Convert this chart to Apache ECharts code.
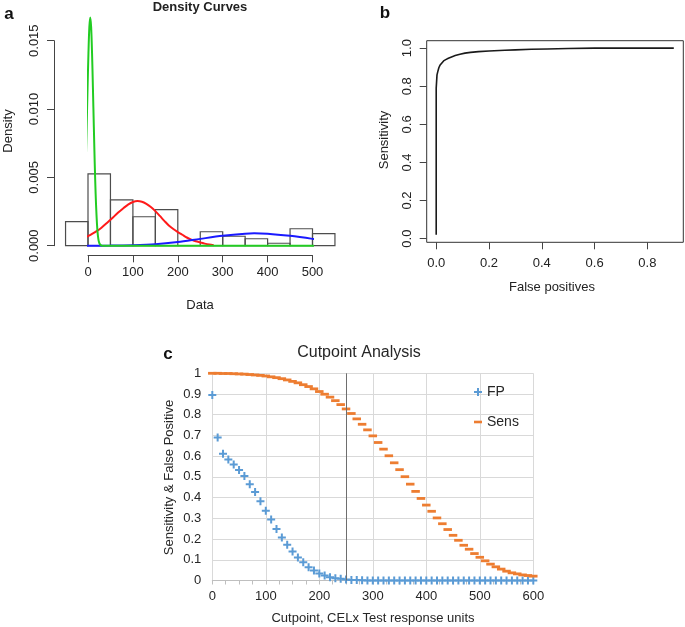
<!DOCTYPE html>
<html>
<head>
<meta charset="utf-8">
<script src="https://cdn.jsdelivr.net/npm/echarts@6/dist/echarts.min.js"></script>
<style>
html,body{margin:0;padding:0;background:#fff;}
#chart{width:685px;height:627px;}
</style>
</head>
<body>
<div id="chart"></div>
<script>
// ---------- Panel a: histogram + density curves ----------
const histBinStart = [-50, 0, 50, 100, 150, 200, 250, 300, 350, 400, 450, 500];
const histBinWidth = 50;
const histDensity = [0.00176, 0.00525, 0.00335, 0.00212, 0.00264, 0, 0.00102, 0.00069, 0.00051, 0.00018, 0.00124, 0.00088];

const greenX = [-7, -5, -3, -1, 1, 3, 5, 7, 9, 11, 13, 15, 17, 19, 21, 23, 25, 28, 32, 40, 100, 200, 300, 400, 530];
const greenY = [0.0038, 0.0060, 0.0087, 0.0115, 0.0141, 0.0160, 0.0167, 0.0160, 0.0141, 0.0115, 0.0087, 0.0060, 0.0038, 0.0022, 0.0011, 0.0005, 0.0002, 0.00005, 0, 0, 0, 0, 0, 0, 0];

const redX = [-5, 0, 10, 20, 30, 40, 50, 60, 70, 80, 90, 100, 110, 120, 130, 140, 150, 160, 170, 180, 190, 200, 210, 220, 230, 240, 250, 260, 270, 280];
const redY = [0.00062, 0.00070, 0.00088, 0.00108, 0.00132, 0.00160, 0.00190, 0.00220, 0.00250, 0.00278, 0.00303, 0.00320, 0.00327, 0.00322, 0.00306, 0.00283, 0.00253, 0.00218, 0.00182, 0.00148, 0.00122, 0.00100, 0.00080, 0.00060, 0.00045, 0.00033, 0.00024, 0.00015, 0.00008, 0.00003];

const blueX = [-5, 50, 100, 150, 200, 250, 300, 350, 370, 400, 450, 500, 530];
const blueY = [0.000003, 0.00001, 0.00004, 0.00011, 0.00027, 0.00050, 0.00072, 0.00088, 0.00091, 0.00088, 0.00072, 0.00050, 0.00034];

// ---------- Panel b: ROC ----------
const rocFP = [0, 0, 0.002, 0.003, 0.006, 0.010, 0.015, 0.020, 0.028, 0.036, 0.046, 0.058, 0.072, 0.090, 0.109, 0.130, 0.160, 0.200, 0.260, 0.300, 0.360, 0.420, 0.500, 0.600, 0.700, 0.800, 0.900];
const rocSens = [0.02, 0.79, 0.80, 0.86, 0.877, 0.897, 0.912, 0.922, 0.933, 0.940, 0.947, 0.954, 0.961, 0.968, 0.974, 0.978, 0.982, 0.985, 0.989, 0.991, 0.994, 0.996, 0.998, 1.0, 1.0, 1.0, 1.0];
const rocXTicks = [0, 0.2, 0.4, 0.6, 0.8];
const rocYTicks = [0, 0.2, 0.4, 0.6, 0.8, 1.0];

// ---------- Panel c: cutpoint analysis ----------
const cutpoints = [0, 10, 20, 30, 40, 50, 60, 70, 80, 90, 100, 110, 120, 130, 140, 150, 160, 170, 180, 190, 200, 210, 220, 230, 240, 250, 260, 270, 280, 290, 300, 310, 320, 330, 340, 350, 360, 370, 380, 390, 400, 410, 420, 430, 440, 450, 460, 470, 480, 490, 500, 510, 520, 530, 540, 550, 560, 570, 580, 590, 600];
const fpValues = [0.895, 0.690, 0.612, 0.584, 0.560, 0.533, 0.504, 0.465, 0.427, 0.382, 0.337, 0.295, 0.249, 0.207, 0.172, 0.140, 0.111, 0.088, 0.064, 0.048, 0.034, 0.024, 0.016, 0.011, 0.008, 0.005, 0.003, 0.002, 0.001, 0, 0, 0, 0, 0, 0, 0, 0, 0, 0, 0, 0, 0, 0, 0, 0, 0, 0, 0, 0, 0, 0, 0, 0, 0, 0, 0, 0, 0, 0, 0, 0];
const sensValues = [1.000, 1.000, 0.999, 0.999, 0.998, 0.997, 0.996, 0.994, 0.992, 0.990, 0.987, 0.983, 0.979, 0.974, 0.968, 0.961, 0.954, 0.945, 0.936, 0.925, 0.912, 0.899, 0.885, 0.868, 0.849, 0.828, 0.806, 0.780, 0.754, 0.727, 0.698, 0.666, 0.634, 0.602, 0.568, 0.535, 0.501, 0.465, 0.430, 0.396, 0.364, 0.334, 0.302, 0.274, 0.246, 0.218, 0.194, 0.170, 0.151, 0.130, 0.112, 0.095, 0.079, 0.066, 0.055, 0.045, 0.037, 0.032, 0.027, 0.024, 0.021];
const chosenCutpoint = 250;

const zip = (xs, ys) => xs.map((x, i) => [x, ys[i]]);

const FONT = '"Liberation Sans", Arial, sans-serif';
const RTXT = '#222';
const RAX = '#444';
const XTXT = '#262626';

const plusPath = 'path://M3,0H5V8H3Z M0,3H8V5H0Z';
const dashPath = 'path://M0,0H8V2.6H0Z';

const chart = echarts.init(document.getElementById('chart'), null, {width: 685, height: 627});

const option = {
  animation: false,
  backgroundColor: '#fff',
  textStyle: {fontFamily: FONT},
  grid: [
    {left: 88, top: 40.7, width: 224.5, height: 205},
    {left: 426.7, top: 40.7, width: 256.6, height: 201.6, show: true, borderColor: '#333', borderWidth: 1, backgroundColor: 'transparent'},
    {left: 212.3, top: 373.3, width: 321, height: 207.2}
  ],
  xAxis: [
    {
      gridIndex: 0, type: 'value', min: 0, max: 500, interval: 100, offset: 9.6,
      axisLine: {show: true, onZero: false, lineStyle: {color: RAX, width: 1}},
      axisTick: {show: true, length: 7, lineStyle: {color: RAX}},
      axisLabel: {fontSize: 13, color: RTXT, margin: 11, fontFamily: FONT},
      splitLine: {show: false}
    },
    {
      gridIndex: 1, type: 'value', min: -0.036, max: 0.936,
      axisLine: {show: false, onZero: false},
      axisTick: {show: true, length: 7, customValues: rocXTicks, lineStyle: {color: RAX}},
      axisLabel: {fontSize: 13, color: RTXT, margin: 15, customValues: rocXTicks, formatter: v => v.toFixed(1), fontFamily: FONT},
      splitLine: {show: false}
    },
    {
      gridIndex: 2, type: 'value', min: 0, max: 600, interval: 100,
      axisLine: {show: true, onZero: false, lineStyle: {color: '#bfbfbf', width: 1}},
      axisTick: {show: true, length: 4, lineStyle: {color: '#bfbfbf'}},
      minorTick: {show: true, splitNumber: 4, length: 4, lineStyle: {color: '#bfbfbf'}},
      axisLabel: {fontSize: 13, color: XTXT, margin: 9, fontFamily: FONT},
      splitLine: {show: true, lineStyle: {color: '#d9d9d9', width: 1}}
    }
  ],
  yAxis: [
    {
      gridIndex: 0, type: 'value', min: 0, max: 0.015, interval: 0.005, offset: 34,
      axisLine: {show: true, onZero: false, lineStyle: {color: RAX, width: 1}},
      axisTick: {show: true, length: 7, lineStyle: {color: RAX}},
      axisLabel: {fontSize: 13, color: RTXT, margin: 13, rotate: 90, formatter: v => v.toFixed(3), fontFamily: FONT},
      splitLine: {show: false}
    },
    {
      gridIndex: 1, type: 'value', min: -0.0192, max: 1.0392,
      axisLine: {show: false, onZero: false},
      axisTick: {show: true, length: 7, customValues: rocYTicks, lineStyle: {color: RAX}},
      axisLabel: {fontSize: 13, color: RTXT, margin: 13, rotate: 90, customValues: rocYTicks, formatter: v => v.toFixed(1), fontFamily: FONT},
      splitLine: {show: false}
    },
    {
      gridIndex: 2, type: 'value', min: 0, max: 1, interval: 0.1,
      axisLine: {show: false, onZero: false},
      axisTick: {show: false},
      axisLabel: {fontSize: 13, color: XTXT, margin: 11, fontFamily: FONT},
      splitLine: {show: true, lineStyle: {color: '#d9d9d9', width: 1}}
    }
  ],
  legend: {
    orient: 'vertical', left: 474, top: 385, padding: 0, itemWidth: 8, itemHeight: 8, itemGap: 16,
    textStyle: {fontSize: 14, color: XTXT, fontFamily: FONT},
    data: [{name: 'FP', icon: plusPath}, {name: 'Sens', icon: dashPath}]
  },
  graphic: [
    {type: 'text', x: 9, y: 14, style: {text: 'a', font: 'bold 17px ' + FONT, fill: '#111', textAlign: 'center', textVerticalAlign: 'middle'}},
    {type: 'text', x: 385, y: 13, style: {text: 'b', font: 'bold 17px ' + FONT, fill: '#111', textAlign: 'center', textVerticalAlign: 'middle'}},
    {type: 'text', x: 168, y: 354, style: {text: 'c', font: 'bold 17px ' + FONT, fill: '#111', textAlign: 'center', textVerticalAlign: 'middle'}},
    {type: 'text', x: 200, y: 7, style: {text: 'Density Curves', font: 'bold 13px ' + FONT, fill: RTXT, textAlign: 'center', textVerticalAlign: 'middle'}},
    {type: 'text', x: 8, y: 131, rotation: Math.PI / 2, style: {text: 'Density', font: '13px ' + FONT, fill: RTXT, textAlign: 'center', textVerticalAlign: 'middle'}},
    {type: 'text', x: 200, y: 305, style: {text: 'Data', font: '13px ' + FONT, fill: RTXT, textAlign: 'center', textVerticalAlign: 'middle'}},
    {type: 'text', x: 384, y: 140, rotation: Math.PI / 2, style: {text: 'Sensitivity', font: '13px ' + FONT, fill: RTXT, textAlign: 'center', textVerticalAlign: 'middle'}},
    {type: 'text', x: 552, y: 287.5, style: {text: 'False positives', font: '13px ' + FONT, fill: RTXT, textAlign: 'center', textVerticalAlign: 'middle'}},
    {type: 'text', x: 359, y: 352.5, style: {text: 'Cutpoint Analysis', font: '16px ' + FONT, fill: XTXT, textAlign: 'center', textVerticalAlign: 'middle'}},
    {type: 'text', x: 169, y: 477.5, rotation: Math.PI / 2, style: {text: 'Sensitivity & False Positive', font: '13px ' + FONT, fill: XTXT, textAlign: 'center', textVerticalAlign: 'middle'}},
    {type: 'text', x: 373, y: 618, style: {text: 'Cutpoint, CELx Test response units', font: '13px ' + FONT, fill: XTXT, textAlign: 'center', textVerticalAlign: 'middle'}}
  ],
  series: [
    {
      type: 'custom', name: 'hist', xAxisIndex: 0, yAxisIndex: 0, clip: false, silent: true,
      data: histBinStart.map((s, i) => [s, s + histBinWidth, histDensity[i]]),
      encode: {x: [0, 1], y: 2},
      renderItem: function (params, api) {
        const p0 = api.coord([api.value(0), api.value(2)]);
        const p1 = api.coord([api.value(1), 0]);
        return {
          type: 'rect',
          shape: {x: p0[0], y: p0[1], width: p1[0] - p0[0], height: p1[1] - p0[1]},
          style: {fill: 'none', stroke: '#4d4d4d', lineWidth: 1.2}
        };
      }
    },
    {type: 'line', name: 'norm1', xAxisIndex: 0, yAxisIndex: 0, clip: false, silent: true, showSymbol: false, smooth: 0.3,
      data: zip(redX, redY), lineStyle: {color: '#ff1a1a', width: 2}},
    {type: 'line', name: 'norm2', xAxisIndex: 0, yAxisIndex: 0, clip: false, silent: true, showSymbol: false, smooth: 0.3,
      data: zip(blueX, blueY), lineStyle: {color: '#1a1aff', width: 2}},
    {type: 'line', name: 'norm0', xAxisIndex: 0, yAxisIndex: 0, clip: false, silent: true, showSymbol: false, smooth: 0.3,
      data: zip(greenX, greenY), lineStyle: {color: '#22cc22', width: 2}},
    {type: 'line', name: 'roc', xAxisIndex: 1, yAxisIndex: 1, clip: false, silent: true, showSymbol: false,
      data: zip(rocFP, rocSens), lineStyle: {color: '#1a1a1a', width: 1.6}},
    {type: 'scatter', name: 'FP', xAxisIndex: 2, yAxisIndex: 2, clip: false, silent: true,
      symbol: plusPath, symbolSize: [8, 8], symbolKeepAspect: true,
      itemStyle: {color: '#5b9bd5', opacity: 1},
      data: zip(cutpoints, fpValues),
      markLine: {silent: true, symbol: 'none', label: {show: false}, lineStyle: {color: '#6e6e6e', width: 1, type: 'solid'},
        data: [{xAxis: chosenCutpoint}]}
    },
    {type: 'scatter', name: 'Sens', xAxisIndex: 2, yAxisIndex: 2, clip: false, silent: true,
      symbol: 'rect', symbolSize: [8.5, 2.8], symbolKeepAspect: true,
      itemStyle: {color: '#ed7d31', opacity: 1},
      data: zip(cutpoints, sensValues)}
  ]
};
chart.setOption(option);
</script>
</body>
</html>
